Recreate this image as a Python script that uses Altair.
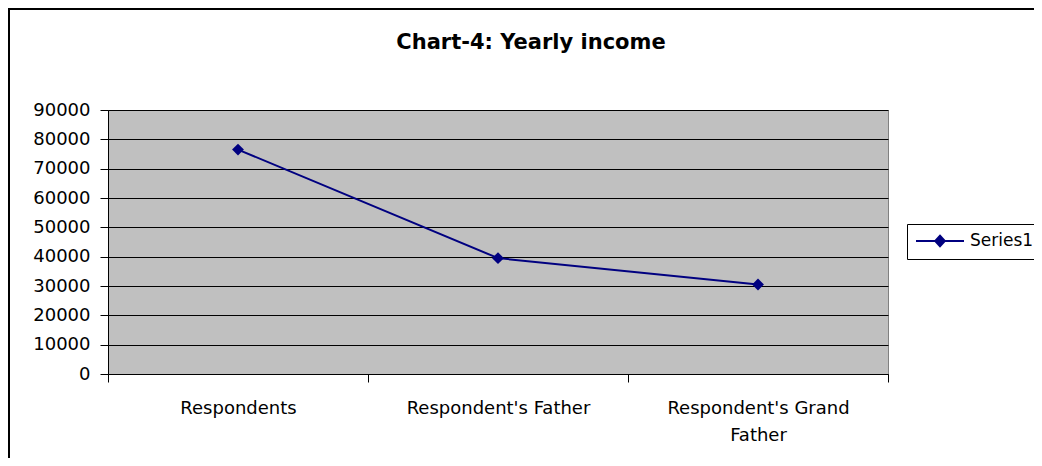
import altair as alt
import pandas as pd

categories = ["Respondents", "Respondent's Father", "Respondent's Grand Father"]
income = [76500, 39500, 30500]
series = ["Series1", "Series1", "Series1"]
y_ticks = [0, 10000, 20000, 30000, 40000, 50000, 60000, 70000, 80000, 90000]

df = pd.DataFrame({"category": categories, "income": income, "series": series})

NAVY = "#000080"
FONT = "DejaVu Sans"

frame = alt.Chart(df).mark_rect(
    fill="white", fillOpacity=0, stroke="black", strokeWidth=2
).encode(
    x=alt.value(-99), x2=alt.value(2000), y=alt.value(-101), y2=alt.value(2000)
)

line = alt.Chart(df).mark_line(
    strokeWidth=2,
    point=alt.OverlayMarkDef(shape="diamond", size=140, filled=True, color=NAVY),
).encode(
    x=alt.X(
        "category:N",
        sort=categories,
        scale=alt.Scale(type="band", paddingInner=0, paddingOuter=0),
        axis=alt.Axis(
            title=None,
            labelAngle=0,
            tickBand="extent",
            grid=False,
            labelBaseline="top",
            labelPadding=17,
            labelLineHeight=27,
            labelLimit=400,
            labelExpr="datum.label == \"Respondent's Grand Father\" ? [\"Respondent's Grand\", \"Father\"] : datum.label",
        ),
    ),
    y=alt.Y(
        "income:Q",
        scale=alt.Scale(domain=[0, 90000], nice=False),
        axis=alt.Axis(
            title=None,
            values=y_ticks,
            grid=True,
            gridColor="black",
            gridWidth=1,
            labelPadding=10,
            format="d",
        ),
    ),
    color=alt.Color(
        "series:N",
        scale=alt.Scale(domain=["Series1"], range=[NAVY]),
        legend=alt.Legend(
            title=None,
            orient="none",
            legendX=799,
            legendY=114,
            padding=8,
            strokeColor="black",
            fillColor="white",
            symbolType="M-1,0L5,0M2,-0.65L2.6,0L2,0.65L1.4,0Z",
            symbolSize=256,
            symbolStrokeWidth=2,
            symbolFillColor=NAVY,
            symbolStrokeColor=NAVY,
            labelOffset=37,
            labelFont=FONT,
            labelFontSize=17,
            labelColor="black",
        ),
    ),
)

chart = alt.layer(frame, line).properties(
    width=780,
    height=264,
    padding={"left": 100, "top": 102, "right": 146, "bottom": 84},
    autosize=alt.AutoSizeParams(type="none"),
    background="white",
    title=alt.TitleParams(
        "Chart-4: Yearly income",
        font=FONT,
        fontSize=21,
        fontWeight="bold",
        color="black",
        anchor="middle",
        frame="group",
        dx=33,
        dy=62,
        baseline="alphabetic",
        offset=0,
    ),
).configure_view(
    fill="#C0C0C0", stroke="#808080", strokeWidth=1
).configure_axis(
    labelFont=FONT,
    labelFontSize=18,
    labelColor="black",
    tickColor="black",
    tickSize=8,
    domainColor="black",
    domainWidth=1,
)

chart.save("out.html", embed_options={"renderer": "svg", "actions": False})
